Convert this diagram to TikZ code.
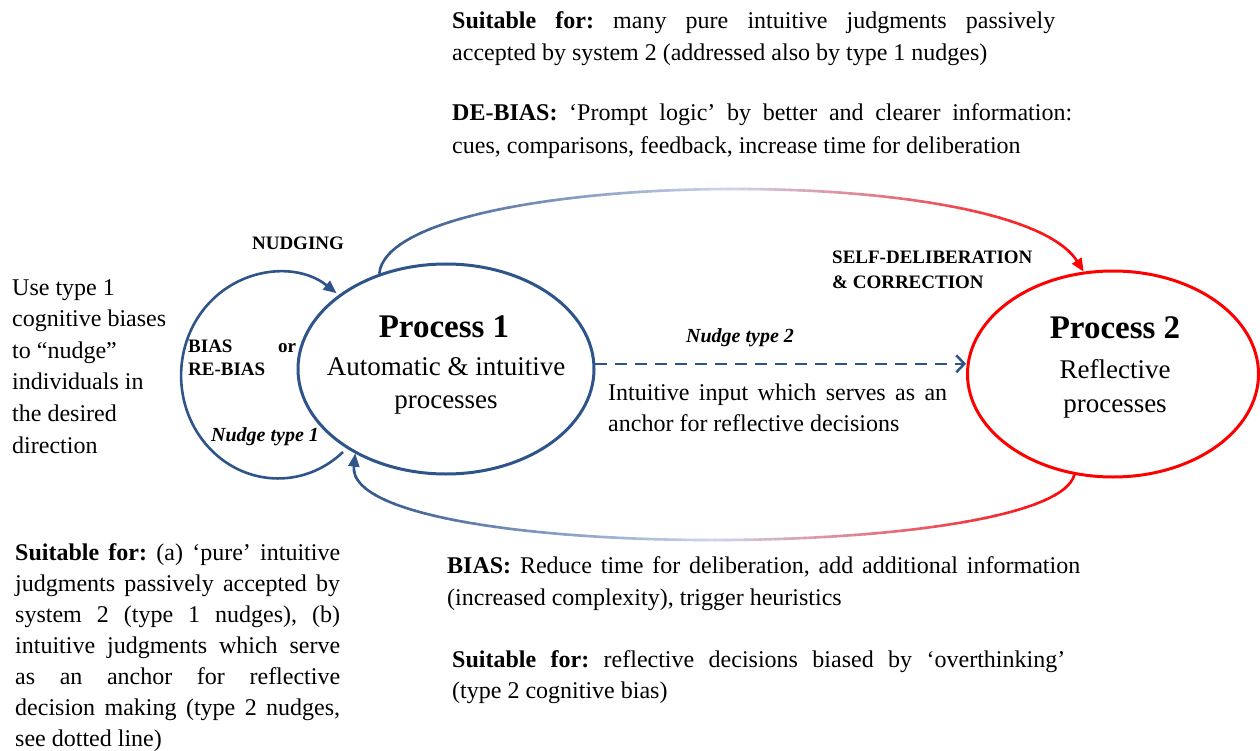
\documentclass[tikz,border=0pt]{standalone}
\usepackage{fontspec}
\setmainfont{Liberation Serif}
\usetikzlibrary{arrows.meta,shapes.geometric}
\definecolor{nblue}{RGB}{47,84,137}
\definecolor{pale}{RGB}{205,214,238}
\definecolor{nred}{RGB}{255,0,0}
\frenchspacing
\tikzset{
  body/.style={anchor=base west, inner sep=0pt, font=\frenchspacing\fontsize{24}{30}\selectfont},
  bodyc/.style={anchor=base, inner sep=0pt, font=\fontsize{27}{32}\selectfont},
  ptitle/.style={anchor=base, inner sep=0pt, font=\bfseries\fontsize{33}{38}\selectfont},
  lab/.style={anchor=base west, inner sep=0pt, font=\bfseries\fontsize{19}{23}\selectfont},
  labc/.style={anchor=base, inner sep=0pt, font=\bfseries\fontsize{19}{23}\selectfont},
  ilab/.style={anchor=base, inner sep=0pt, font=\bfseries\itshape\fontsize{20}{24}\selectfont},
  procA/.style={ellipse, draw=nblue, line width=3pt, inner sep=0pt},
  procB/.style={ellipse, draw=nred, line width=3pt, inner sep=0pt},
  tip/.style={-{Triangle[length=13pt,width=11pt]}},
  arcline/.style={line width=2.6pt},
}
\begin{document}
\begin{tikzpicture}[x=1pt,y=-1pt]
\fill[white] (0,0) rectangle (1260,751);
\useasboundingbox (0,0) rectangle (1260,751);

% process ellipses
\node[procA, minimum width=296pt, minimum height=210pt] (p1) at (446,369) {};
\node[procB, minimum width=291pt, minimum height=206pt] (p2) at (1113,374) {};

% process texts
\node[ptitle] (p1t) at (444,337) {Process 1};
\node[bodyc] (p1a) at (446,375) {Automatic \& intuitive};
\node[bodyc] (p1b) at (446,408) {processes};
\node[ptitle] (p2t) at (1115,338) {Process 2};
\node[bodyc] (p2a) at (1115,378) {Reflective};
\node[bodyc] (p2b) at (1115,412) {processes};

% self loop (nudge type 1)
\coordinate (lp) at (343,452);
\draw[nblue, arcline, tip] (lp) arc[start angle=48, end angle=307, x radius=97, y radius=103];

% dashed nudge type 2
\draw[nblue, line width=2.5pt, dash pattern=on 12pt off 8pt, -{Straight Barb[length=8pt,width=17pt]}] (p1.2) -- (p1.2 -| p2.west);

% top gradient arc (process 1 -> process 2)
\foreach \i in {0,...,74} {
  \pgfmathsetmacro{\xa}{350+\i*10}
  \pgfmathsetmacro{\f}{max(0,min(1,(\xa+5-380)/700))}
  \pgfmathsetmacro{\pa}{min(100,200*\f)}
  \pgfmathsetmacro{\pb}{max(0,200*\f-100)}
  \colorlet{tmpc}{pale!\pa!nblue}
  \colorlet{segc}{nred!\pb!tmpc}
  \begin{scope}
    \clip (\xa-0.6,140) rectangle (\xa+10.6,292);
    \draw[segc, arcline, tip] (p1.125) .. controls +(10,-105) and +(-72,-114) .. (p2.106);
  \end{scope}
}

% bottom gradient arc (process 2 -> process 1)
\foreach \i in {0,...,75} {
  \pgfmathsetmacro{\xa}{335+\i*10}
  \pgfmathsetmacro{\f}{max(0,min(1,(\xa+5-355)/720))}
  \pgfmathsetmacro{\pa}{min(100,200*\f)}
  \pgfmathsetmacro{\pb}{max(0,200*\f-100)}
  \colorlet{tmpc}{pale!\pa!nblue}
  \colorlet{segc}{nred!\pb!tmpc}
  \begin{scope}
    \clip (\xa-0.6,430) rectangle (\xa+10.6,570);
    \draw[segc, arcline, tip] (p2.249) .. controls +(-23,88) and +(-12,110) .. (p1.223);
  \end{scope}
}

% labels
\node[labc] (nudging) at (298,250) {NUDGING};
\node[lab] (sd1) at (832,264) {SELF-DELIBERATION};
\node[lab] (sd2) at (832,288) {\& CORRECTION};
\node[lab] (bias1) at (188,352) {\makebox[108pt][s]{BIAS or}};
\node[lab] (bias2) at (188,375) {RE-BIAS};
\node[ilab] (nt1) at (265,441) {Nudge type 1};
\node[ilab] (nt2) at (740,342) {Nudge type 2};
\node[body] (ii1) at (608,400) {\makebox[339pt][s]{Intuitive input which serves as an}};
\node[body] (ii2) at (608,431) {anchor for reflective decisions};

% top text
\node[body] (s1a) at (452,29) {\makebox[603pt][s]{\textbf{Suitable for:} many pure intuitive judgments passively}};
\node[body] (s1b) at (452,61) {accepted by system 2 (addressed also by type 1 nudges)};
\node[body] (d1a) at (452,121) {\makebox[620pt][s]{\textbf{DE-BIAS:} ‘Prompt logic’ by better and clearer information:}};
\node[body] (d1b) at (452,154) {cues, comparisons, feedback, increase time for deliberation};

% left text
\node[body] (u1) at (12,295) {Use type 1};
\node[body] (u2) at (12,326.6) {cognitive biases};
\node[body] (u3) at (12,358.2) {to “nudge”};
\node[body] (u4) at (12,389.8) {individuals in};
\node[body] (u5) at (12,421.4) {the desired};
\node[body] (u6) at (12,453) {direction};

% bottom-left text
\node[body] (b1) at (15,560) {\makebox[325pt][s]{\textbf{Suitable for:} (a) ‘pure’ intuitive}};
\node[body] (b2) at (15,591) {\makebox[325pt][s]{judgments passively accepted by}};
\node[body] (b3) at (15,622) {\makebox[325pt][s]{system 2 (type 1 nudges), (b)}};
\node[body] (b4) at (15,653) {\makebox[325pt][s]{intuitive judgments which serve}};
\node[body] (b5) at (15,684) {\makebox[325pt][s]{as an anchor for reflective}};
\node[body] (b6) at (15,715) {\makebox[325pt][s]{decision making (type 2 nudges,}};
\node[body] (b7) at (15,746) {see dotted line)};

% bottom middle texts
\node[body] (bi1) at (447,573) {\makebox[633pt][s]{\textbf{BIAS:} Reduce time for deliberation, add additional information}};
\node[body] (bi2) at (447,605) {(increased complexity), trigger heuristics};
\node[body] (sb1) at (452,667) {\makebox[613pt][s]{\textbf{Suitable for:} reflective decisions biased by ‘overthinking’}};
\node[body] (sb2) at (452,698) {(type 2 cognitive bias)};
\end{tikzpicture}
\end{document}
